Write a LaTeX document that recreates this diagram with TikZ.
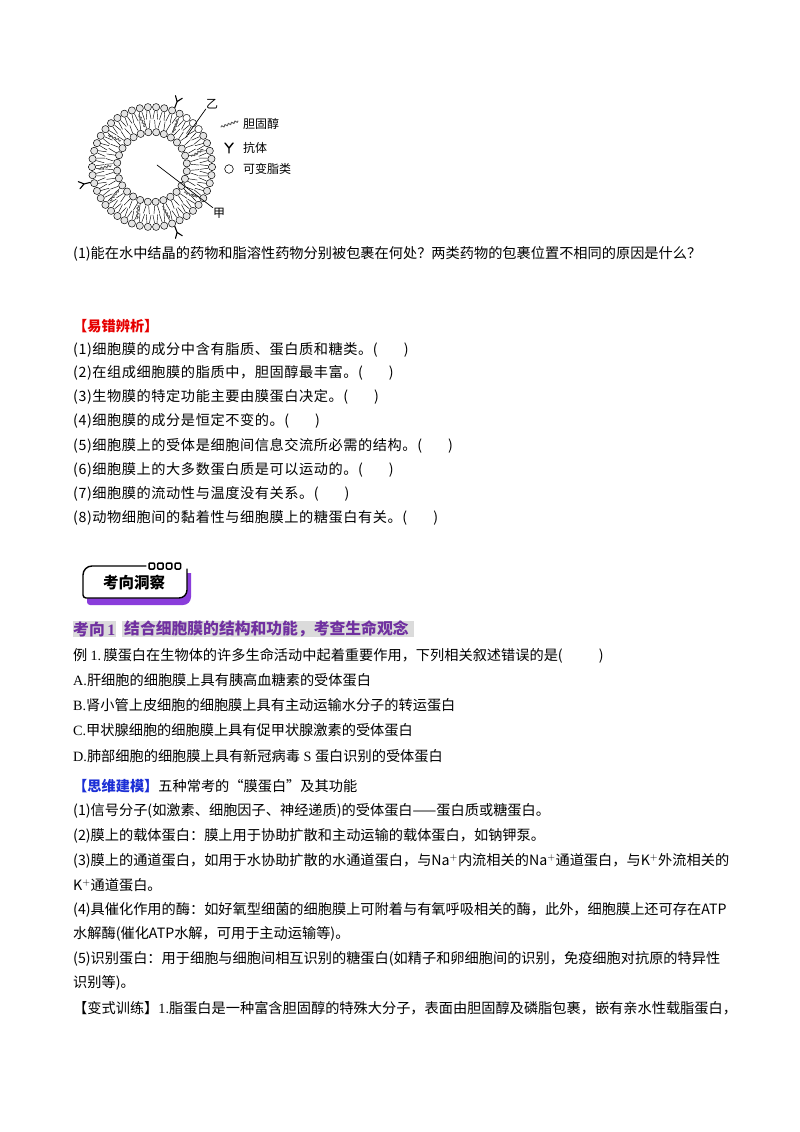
\documentclass[tikz,border=0pt]{standalone}
\usepackage{fontspec}
\setmainfont{Liberation Serif}
\newfontfamily\cjk{Noto Sans CJK SC}
\newfontfamily\cjkwide[LetterSpace=4]{Noto Sans CJK SC}
\usetikzlibrary{decorations.pathmorphing}
\XeTeXlinebreaklocale "zh"
\XeTeXlinebreakskip=0pt plus 2pt minus 0.4pt
\definecolor{kxpurple}{HTML}{7030A0}
\definecolor{kxshadow}{HTML}{8A3DDB}
\definecolor{yicuored}{HTML}{E60000}
\definecolor{siweiblue}{HTML}{1C2FD6}
\tikzset{
  txt/.style={anchor=west, inner sep=0pt, font=\cjk\fontsize{14.2}{17}\selectfont},
  yctxt/.style={anchor=west, inner sep=0pt, font=\cjkwide\fontsize{14.2}{17}\selectfont},
  lbl/.style={inner sep=0pt, font=\cjk\fontsize{12}{14}\selectfont},
  headball/.style={draw=black, line width=0.5pt, fill=gray!20},
  varball/.style={draw=black!75, line width=0.5pt, fill=white},
  tail/.style={line width=0.45pt},
  chol/.style={draw=black!65, line width=0.9pt, decorate,
    decoration={snake, amplitude=1pt, segment length=3.5pt}},
  ab/.style={line width=1.1pt},
}
\newcommand{\jl}[2]{\makebox[#1pt][s]{#2}}
\begin{document}
\begin{tikzpicture}[x=1pt, y=-1pt, line join=round, line cap=round]
\useasboundingbox[fill=white] (0,0) rectangle (800,1132);

% liposome
\begin{scope}[shift={(152,167)}, yscale=-1]
  \foreach \i [evaluate=\i as \a using \i*360/46] in {0,...,45}
    \draw[tail] (\a-1.3:56) -- (\a-2.8:48) (\a+1.3:56) -- (\a+2.8:48);
  \foreach \i [evaluate=\i as \b using \i*360/28+6] in {0,...,27}
    \draw[tail] (\b-2:39) -- (\b-3.6:47) (\b+2:39) -- (\b+3.6:47);
  \foreach \c in {15,58,100,140,178,215,250,285,322}
    \draw[chol] (\c:41) -- (\c+4:54);
  \foreach \i [evaluate=\i as \a using \i*360/46] in {0,...,45}
    \draw[headball] (\a:60) circle (3.6);
  \foreach \i [evaluate=\i as \b using \i*360/28+6] in {0,...,27}
    \draw[headball] (\b:35) circle (3.6);
  \foreach \i in {5,6,7}
    \draw[varball] ({\i*360/46}:60) circle (3.6);
  \foreach \r in {69,166,291}{
    \begin{scope}[rotate=\r]
      \draw[ab] (63.6,0) -- (70,0) -- (75,3.6) (70,0) -- (75,-3.6);
    \end{scope}}
\end{scope}
\node[lbl] (yi) at (212,104) {乙};
\coordinate (yiTip) at (186,137);
\draw[line width=0.7pt] (yi.south west) -- (yiTip);
\node[lbl] (jia) at (219,213) {甲};
\coordinate (jiaTip) at (157,165);
\draw[line width=0.7pt] (jia.north west) -- (jiaTip);

% legend
\draw[chol] (221,127) -- (238,121);
\node[lbl, anchor=west] (lgChol) at (243,124) {胆固醇};
\draw[line width=1.4pt] (229,153) -- (229,148) -- (225,143) (229,148) -- (233,143);
\node[lbl, anchor=west] (lgAb) at (243,148) {抗体};
\draw[line width=0.6pt] (229,169) circle (4.3);
\node[lbl, anchor=west] (lgVar) at (243,169) {可变脂类};

\node[txt] (q1) at (73,254) {\jl{615}{(1)能在水中结晶的药物和脂溶性药物分别被包裹在何处？两类药物的包裹位置不相同的原因是什么？}};

% yi cuo bian xi
\node[txt, text=yicuored] (ycTitle) at (73,326) {\bfseries 【易错辨析】};
\node[yctxt] (yc1) at (73,350) {(1)细胞膜的成分中含有脂质、蛋白质和糖类。(\hspace{26pt})};
\node[yctxt] (yc2) at (73,373) {(2)在组成细胞膜的脂质中，胆固醇最丰富。(\hspace{26pt})};
\node[yctxt] (yc3) at (73,397) {(3)生物膜的特定功能主要由膜蛋白决定。(\hspace{26pt})};
\node[yctxt] (yc4) at (73,421) {(4)细胞膜的成分是恒定不变的。(\hspace{26pt})};
\node[yctxt] (yc5) at (73,446) {(5)细胞膜上的受体是细胞间信息交流所必需的结构。(\hspace{26pt})};
\node[yctxt] (yc6) at (73,470) {(6)细胞膜上的大多数蛋白质是可以运动的。(\hspace{26pt})};
\node[yctxt] (yc7) at (73,494) {(7)细胞膜的流动性与温度没有关系。(\hspace{26pt})};
\node[yctxt] (yc8) at (73,518) {(8)动物细胞间的黏着性与细胞膜上的糖蛋白有关。(\hspace{26pt})};

% kao xiang dong cha
\fill[kxshadow, rounded corners=9pt] (191,573) -- (87,573) [rounded corners=3pt] -- (87,605)
  [rounded corners=8pt] -- (191,605) [sharp corners] -- cycle;
\fill[white, rounded corners=9pt] (187,566) -- (83,566) [rounded corners=3pt] -- (83,598)
  [rounded corners=8pt] -- (187,598) [sharp corners] -- cycle;
\draw[line width=1.4pt, rounded corners=9pt] (146,566) -- (83,566) [rounded corners=3pt] -- (83,598)
  [rounded corners=8pt] -- (187,598) [sharp corners] -- (187,569);
\foreach \i in {0,...,3}
  \draw[line width=1.5pt, fill=white, rounded corners=1pt] ({149+\i*8.7},563) rectangle ({154.5+\i*8.7},569);
\node[inner sep=0pt, font=\cjk\bfseries\fontsize{15.5}{18}\selectfont] (kxTitle) at (134,583) {考向洞察};

\fill[gray!28] (73,621) rectangle (116,637);
\fill[gray!28] (122,621) rectangle (414,637);
\node[txt, text=kxpurple, font=\cjk\bfseries\fontsize{15.8}{18}\selectfont] (kx1) at (73,629) {考向\,{\rmfamily 1}};
\node[txt, text=kxpurple, font=\cjk\bfseries\fontsize{15.8}{18}\selectfont] (kx1t) at (124,629) {结合细胞膜的结构和功能，考查生命观念};

% li 1
\node[txt] (li1) at (73,656) {例 {\rmfamily 1.}\,膜蛋白在生物体的许多生命活动中起着重要作用，下列相关叙述错误的是(\hspace{36pt})};
\node[txt] (opA) at (73,680) {{\rmfamily A.}肝细胞的细胞膜上具有胰高血糖素的受体蛋白};
\node[txt] (opB) at (73,705) {{\rmfamily B.}肾小管上皮细胞的细胞膜上具有主动运输水分子的转运蛋白};
\node[txt] (opC) at (73,730) {{\rmfamily C.}甲状腺细胞的细胞膜上具有促甲状腺激素的受体蛋白};
\node[txt] (opD) at (73,756) {{\rmfamily D.}肺部细胞的细胞膜上具有新冠病毒{\rmfamily\ S }蛋白识别的受体蛋白};

% si wei jian mo
\node[txt] (swTitle) at (73,786) {{\color{siweiblue}\bfseries 【思维建模】}五种常考的“膜蛋白”及其功能};
\node[txt] (sw1) at (73,811) {(1)信号分子(如激素、细胞因子、神经递质)的受体蛋白——蛋白质或糖蛋白。};
\node[txt] (sw2) at (73,836) {(2)膜上的载体蛋白：膜上用于协助扩散和主动运输的载体蛋白，如钠钾泵。};
\node[txt] (sw3) at (73,861) {\jl{654}{(3)膜上的通道蛋白，如用于水协助扩散的水通道蛋白，与Na$^+$内流相关的Na$^+$通道蛋白，与K$^+$外流相关的}};
\node[txt] (sw3b) at (73,885) {K$^+$通道蛋白。};
\node[txt] (sw4) at (73,910) {\jl{654}{(4)具催化作用的酶：如好氧型细菌的细胞膜上可附着与有氧呼吸相关的酶，此外，细胞膜上还可存在ATP}};
\node[txt] (sw4b) at (73,934) {水解酶(催化ATP水解，可用于主动运输等)。};
\node[txt] (sw5) at (73,959) {\jl{654}{(5)识别蛋白：用于细胞与细胞间相互识别的糖蛋白(如精子和卵细胞间的识别，免疫细胞对抗原的特异性}};
\node[txt] (sw5b) at (73,983) {识别等)。};
\node[txt] (bs1) at (73,1008) {\jl{654}{【变式训练】{\rmfamily 1.}脂蛋白是一种富含胆固醇的特殊大分子，表面由胆固醇及磷脂包裹，嵌有亲水性载脂蛋白，}};
\end{tikzpicture}
\end{document}
